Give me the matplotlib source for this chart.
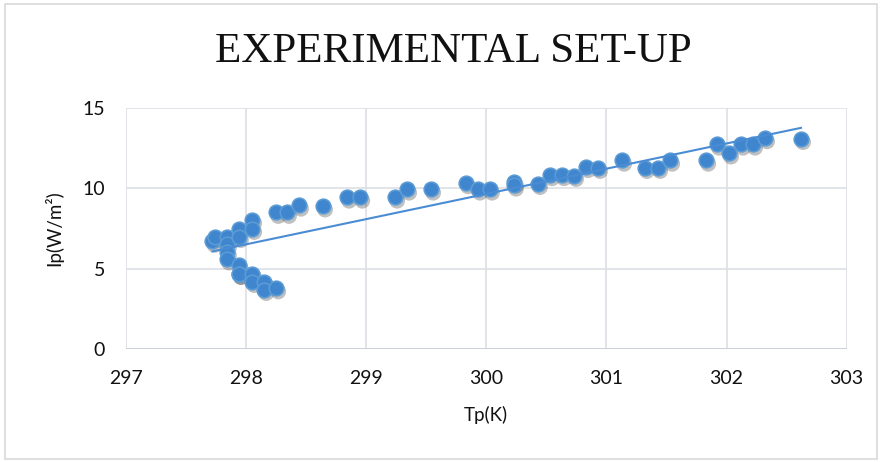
import numpy as np
import matplotlib
matplotlib.use("Agg")
import matplotlib.pyplot as plt
import matplotlib.transforms as mtransforms
from matplotlib.patches import Rectangle

# plate temperature (K) and intensity (W/m2)
tp = [297.72, 297.74, 297.84, 297.84, 297.84, 297.84, 297.94, 297.94, 297.94, 297.94,
      297.94, 298.05, 298.05, 298.05, 298.05, 298.15, 298.15, 298.25, 298.25, 298.34,
      298.44, 298.64, 298.84, 298.95, 299.24, 299.34, 299.54, 299.83, 299.93, 300.03,
      300.23, 300.23, 300.43, 300.53, 300.63, 300.73, 300.83, 300.93, 301.13, 301.32,
      301.43, 301.53, 301.83, 301.92, 302.02, 302.12, 302.22, 302.32, 302.62]
ip = [6.70, 7.00, 7.00, 6.55, 6.05, 5.60, 7.50, 7.00, 5.20, 4.70,
      4.70, 8.05, 7.50, 4.70, 4.20, 4.20, 3.70, 3.80, 8.50, 8.50,
      8.95, 8.90, 9.45, 9.45, 9.45, 9.95, 9.95, 10.35, 9.95, 9.95,
      10.40, 10.20, 10.30, 10.85, 10.85, 10.80, 11.35, 11.30, 11.75, 11.30,
      11.30, 11.75, 11.75, 12.75, 12.20, 12.75, 12.75, 13.15, 13.10]

xticks = [297, 298, 299, 300, 301, 302, 303]
yticks = [0, 5, 10, 15]

fig = plt.figure(figsize=(8.81, 4.62), dpi=100)
ax = fig.add_axes([0.143, 0.2446, 0.818, 0.5214])

# soft drop shadow under the markers
shadow = mtransforms.offset_copy(ax.transData, fig=fig, x=1.5, y=-2.5, units="points")
ax.scatter(tp, ip, s=130, color="#303030", alpha=0.3, edgecolors="none",
           transform=shadow, zorder=2)
ax.scatter(tp, ip, s=110, color="#3F86CF", edgecolors="#5B9BD5", linewidths=1.2, zorder=3)

# linear trendline
k, b = np.polyfit(tp, ip, 1)
xs = np.array([min(tp), max(tp)])
ax.plot(xs, k * xs + b, color="#4A8CD4", lw=1.5, zorder=4)

ax.set_xlim(297, 303)
ax.set_ylim(0, 15)
ax.set_xticks(xticks)
ax.set_yticks(yticks)
ax.grid(True, color="#DCDFE5", lw=1.2)
ax.set_axisbelow(True)
for s in ax.spines.values():
    s.set_visible(False)
ax.axhline(0, color="#C8CCD4", lw=1.2, zorder=1)
ax.tick_params(length=0, labelsize=14, pad=15, labelcolor="#111111")
for lab in ax.get_xticklabels() + ax.get_yticklabels():
    lab.set_family("Lato")

ax.set_xlabel("Tp(K)", fontsize=13.5, family="Lato", labelpad=14, color="#111111")
ax.set_ylabel("Ip(W/m²)", fontsize=13.5, family="Lato", labelpad=14, color="#111111")

title = fig.text(0.515, 0.888, "EXPERIMENTAL SET-UP", ha="center", va="center",
                 fontsize=31, family="Liberation Serif", color="#111111")

fig.patches.append(Rectangle((0.006, 0.006), 0.99, 0.985, transform=fig.transFigure,
                             fill=False, edgecolor="#D9D9D9", lw=1.2))

fig.savefig("out.png", dpi=100)
